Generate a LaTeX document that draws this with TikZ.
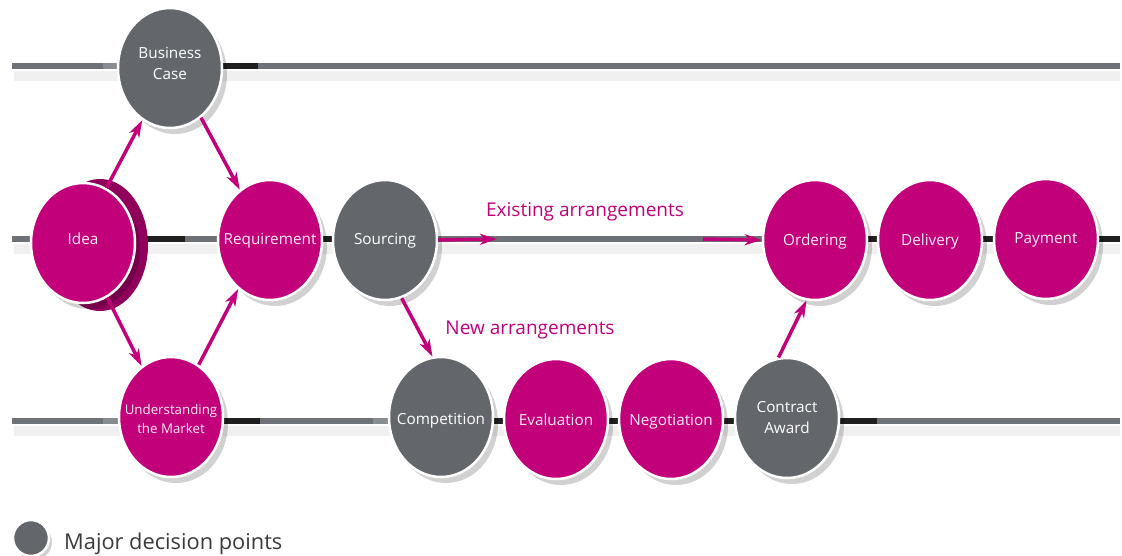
\documentclass[tikz,border=0pt]{standalone}
\usepackage{fontspec}
\setmainfont{Open Sans}
\usetikzlibrary{shapes.geometric,arrows.meta,shadows}
\definecolor{mag}{HTML}{C2007A}
\definecolor{magdark}{HTML}{8E005A}
\definecolor{gry}{HTML}{63676B}
\definecolor{lgry}{HTML}{6E7276}
\definecolor{txtdark}{HTML}{3A3A3A}
\newcommand\nt[2][-3.8pt]{\makebox[0pt]{\raisebox{#1}[0pt][0pt]{\begin{tabular}{@{}c@{}}#2\end{tabular}}}}
\tikzset{
  stage/.style={ellipse, minimum width=104pt, minimum height=120pt, inner sep=0pt,
    draw=white, line width=2.5pt, text=white, align=center,
    font=\fontsize{15.3}{21}\selectfont,
    drop shadow={shadow xshift=5pt, shadow yshift=-6pt, fill=black, opacity=0.18}},
  magstage/.style={stage, fill=mag, text=white!92!mag},
  grystage/.style={stage, fill=gry},
  baseline/.style={draw=lgry, line width=6pt},
  lineshadow/.style={draw=black, line width=10pt, opacity=0.06},
  darkseg/.style={draw=black!88, line width=6pt},
  lightseg/.style={draw=gry!75, line width=6pt},
  arr/.style={draw=mag, line width=3.5pt, -{Stealth[length=17pt,width=11pt,inset=5pt]}},
  lbl/.style={text=mag, font=\fontsize{19}{22}\selectfont, inner sep=0pt}
}
\begin{document}
\begin{tikzpicture}[x=1pt,y=-1pt]
\useasboundingbox (0,0) rectangle (1122,555);
% line shadows
\draw[lineshadow] (14,76) -- (1120,76);
\draw[lineshadow] (14,249) -- (1120,249);
\draw[lineshadow] (14,431) -- (1120,431);
% base lines
\coordinate (t0) at (12,66); \coordinate (t1) at (1120,66);
\coordinate (m0) at (12,239); \coordinate (m1) at (1120,239);
\coordinate (b0) at (12,421); \coordinate (b1) at (1120,421);
\draw[baseline] (t0) -- (t1);
\draw[baseline] (m0) -- (m1);
\draw[baseline] (b0) -- (b1);
% darker / lighter segments
\draw[darkseg] (220,66) -- (258,66);
\draw[lightseg] (103,66) -- (121,66);
\draw[darkseg] (130,239) -- (185,239);
\draw[darkseg] (318,239) -- (336,239);
\draw[darkseg] (220,421) -- (260,421);
\draw[lightseg] (103,421) -- (121,421);
\draw[lightseg] (373,421) -- (391,421);
\draw[darkseg] (490,421) -- (740,421);
\draw[darkseg] (836,421) -- (877,421);
\draw[darkseg] (864,239) -- (882,239);
\draw[darkseg] (979,239) -- (998,239);
\draw[darkseg] (1094,239) -- (1120,239);
% idea extrusion
\fill[magdark] (100,245) ellipse [x radius=48, y radius=66];
% nodes
\node[grystage] (bc) at (170,68) {\nt[-0.8pt]{Business\\Case}};
\node[magstage] (idea) at (83,243) {\nt[-0.8pt]{Idea}};
\node[magstage, font=\fontsize{13.3}{19}\selectfont] (um) at (171,417) {\nt[-6.3pt]{Understanding\\the Market}};
\node[magstage] (req) at (270,240) {\nt{Requirement}};
\node[grystage] (src) at (385,240) {\nt{Sourcing}};
\node[grystage] (comp) at (441,417) {\nt[-6.8pt]{Competition}};
\node[magstage] (eval) at (556,419) {\nt[-5.8pt]{Evaluation}};
\node[magstage] (neg) at (671,419) {\nt[-5.8pt]{Negotiation}};
\node[grystage] (ca) at (787,418) {\nt[-4.8pt]{Contract\\Award}};
\node[magstage] (ord) at (815,240) {\nt[-4.8pt]{Ordering}};
\node[magstage] (del) at (930,240) {\nt[-4.8pt]{Delivery}};
\node[magstage] (pay) at (1046,239) {\nt{Payment}};
% arrows
\coordinate (ex1) at (497,239);
\coordinate (ex2) at (703,239);
\draw[arr] (idea.67) -- (bc.242);
\draw[arr] (bc.302) -- (req.121);
\draw[arr] (idea.294) -- (um.120);
\draw[arr] (um.62) -- (req.237);
\draw[arr] (src.286) -- (comp.98);
\draw[arr] (ca.98) -- (ord.262);
\draw[arr] (src.east) -- (ex1);
\draw[arr] (ex2) -- (ord.west);
% labels
\node[lbl] (exl) at (585,212) {Existing arrangements};
\node[lbl] (nwl) at (530,330) {New arrangements};
% legend
\node[circle, fill=gry, draw=white, line width=2.5pt, minimum size=36pt, inner sep=0pt,
  drop shadow={shadow xshift=3pt, shadow yshift=-4pt, fill=black, opacity=0.18}] (leg) at (31,538) {};
\node[anchor=west, text=txtdark, font=\fontsize{21.8}{24}\selectfont, inner sep=0pt] (legt) at (64,544) {Major decision points};
\end{tikzpicture}
\end{document}
